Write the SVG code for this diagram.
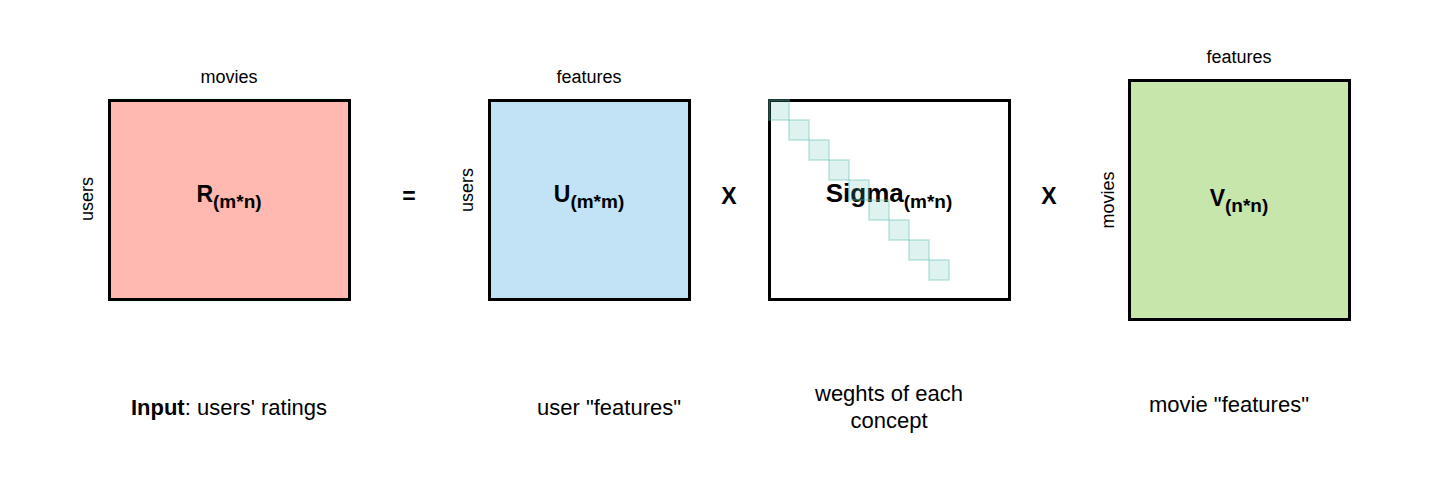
<svg xmlns="http://www.w3.org/2000/svg" width="1439" height="502" viewBox="0 0 1439 502">
<style>
  .mat { stroke: #000; stroke-width: 3; }
  .lbl { font-family: "Liberation Sans", Arial, sans-serif; font-size: 18px; fill: #000; text-anchor: middle; }
  .big { font-family: "Liberation Sans", Arial, sans-serif; font-size: 23px; font-weight: bold; fill: #000; text-anchor: middle; }
  .big.sig { font-size: 26px; }
  .sub { font-size: 19px; }
  .cap { font-family: "Liberation Sans", Arial, sans-serif; font-size: 22px; fill: #000; text-anchor: middle; }
  .diag { fill: #5cbfae; fill-opacity: 0.2; stroke: #5cbfae; stroke-opacity: 0.3; stroke-width: 2; }
</style>
<rect width="1439" height="502" fill="#fff"/>

<g id="R">
  <rect class="mat" x="109.5" y="100.5" width="240" height="199" fill="#ffb9b0"/>
  <text class="lbl" x="229" y="83">movies</text>
  <text class="lbl" transform="translate(93,199) rotate(-90)">users</text>
  <text class="big" x="229" y="202">R<tspan class="sub" dy="6">(m*n)</tspan></text>
</g>

<g id="eq">
  <text class="big" x="409" y="204">=</text>
</g>

<g id="U">
  <rect class="mat" x="489.5" y="100.5" width="200" height="199" fill="#c1e3f5"/>
  <text class="lbl" x="589" y="83">features</text>
  <text class="lbl" transform="translate(473,190) rotate(-90)">users</text>
  <text class="big" x="589" y="202">U<tspan class="sub" dy="6">(m*m)</tspan></text>
</g>

<g id="x1">
  <text class="big" x="729" y="204">X</text>
</g>

<g id="Sigma">
  <rect class="mat" x="769.5" y="100.5" width="240" height="199" fill="#fff"/>
  <text class="big sig" x="889" y="202">Sigma<tspan class="sub" dy="6">(m*n)</tspan></text>
  <rect class="diag" x="769" y="100" width="20" height="20"/>
  <rect class="diag" x="789" y="120" width="20" height="20"/>
  <rect class="diag" x="809" y="140" width="20" height="20"/>
  <rect class="diag" x="829" y="160" width="20" height="20"/>
  <rect class="diag" x="849" y="180" width="20" height="20"/>
  <rect class="diag" x="869" y="200" width="20" height="20"/>
  <rect class="diag" x="889" y="220" width="20" height="20"/>
  <rect class="diag" x="909" y="240" width="20" height="20"/>
  <rect class="diag" x="929" y="260" width="20" height="20"/>
</g>

<g id="x2">
  <text class="big" x="1049" y="204">X</text>
</g>

<g id="V">
  <rect class="mat" x="1129.5" y="80.5" width="220" height="239" fill="#c6e6ac"/>
  <text class="lbl" x="1239" y="63">features</text>
  <text class="lbl" transform="translate(1114,200) rotate(-90)">movies</text>
  <text class="big" x="1239" y="206">V<tspan class="sub" dy="6">(n*n)</tspan></text>
</g>

<g id="captions">
  <text class="cap" x="229" y="415"><tspan font-weight="bold">Input</tspan>: users' ratings</text>
  <text class="cap" x="609" y="415">user "features"</text>
  <text class="cap" x="889" y="401">weghts of each</text>
  <text class="cap" x="889" y="428">concept</text>
  <text class="cap" x="1229" y="412">movie "features"</text>
</g>

<g id="connectors"></g>
</svg>
